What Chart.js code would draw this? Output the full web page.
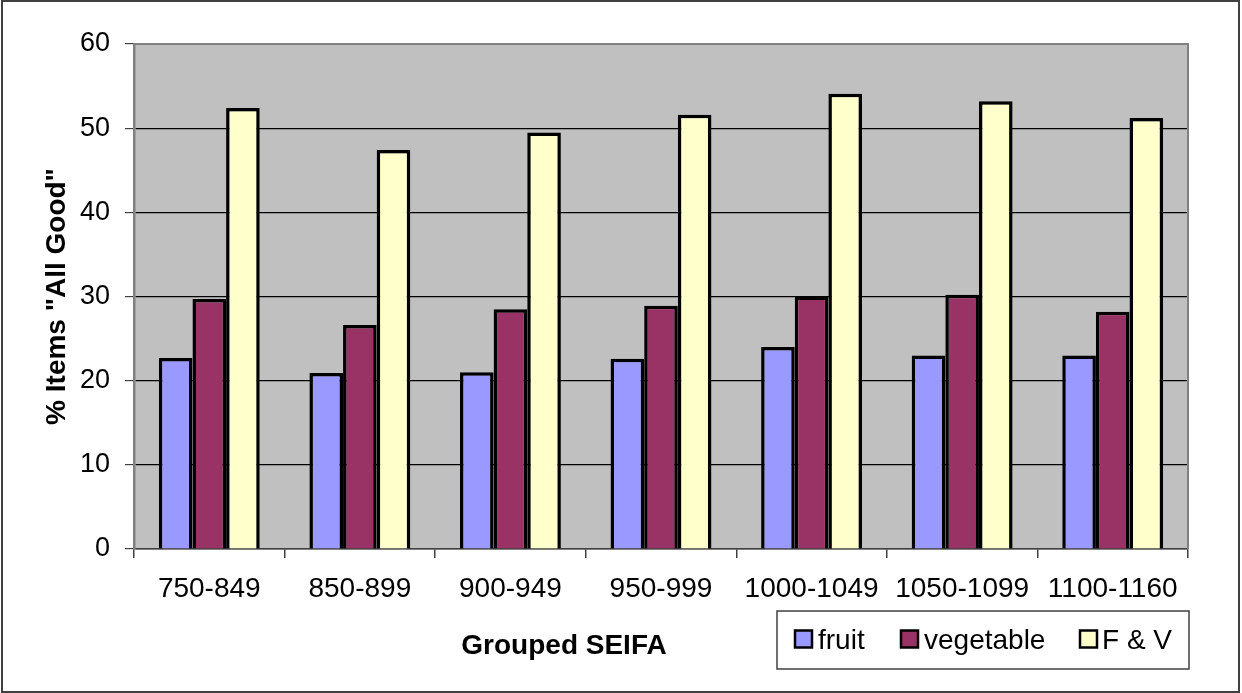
<!DOCTYPE html>
<html>
<head>
<meta charset="utf-8">
<title>Grouped SEIFA – % Items "All Good"</title>
<script src="https://cdn.jsdelivr.net/npm/chart.js@4/dist/chart.umd.min.js"></script>
<style>
  html, body { margin: 0; padding: 0; background: #ffffff; }
  #wrap { width: 1242px; height: 693px; position: relative; }
  canvas { display: block; }
</style>
</head>
<body>
<div id="wrap"><canvas id="chart" width="1242" height="693"></canvas></div>
<script>
// Grouped SEIFA bands
const categories = ['750-849', '850-899', '900-949', '950-999', '1000-1049', '1050-1099', '1100-1160'];

// % of items rated "All Good" per band
const fruit     = [22.7, 20.9, 21.0, 22.6, 24.0, 23.0, 23.0];
const vegetable = [29.7, 26.6, 28.5, 28.9, 30.0, 30.2, 28.2];
const fAndV     = [52.4, 47.4, 49.5, 51.6, 54.1, 53.2, 51.2];

// Value axis ticks
const yTicks = [0, 10, 20, 30, 40, 50, 60];

const seriesNames = ['fruit', 'vegetable', 'F & V'];
const seriesColors = ['#9999FF', '#993366', '#FFFFCC'];

const FONT = '"Liberation Sans", Arial, Helvetica, sans-serif';

// Plot background, plot frame, outer frame, axis titles and legend box
const decorations = {
  id: 'decorations',
  beforeDraw(chart) {
    const { ctx, chartArea: a } = chart;
    ctx.save();
    ctx.fillStyle = '#ffffff';
    ctx.fillRect(0, 0, chart.width, chart.height);
    ctx.fillStyle = '#C0C0C0';
    ctx.fillRect(a.left, a.top, a.right - a.left, a.bottom - a.top);
    ctx.restore();
  },
  afterDraw(chart) {
    const { ctx, chartArea: a } = chart;
    ctx.save();

    // plot frame (top and right edges)
    ctx.strokeStyle = '#808080';
    ctx.lineWidth = 2;
    ctx.beginPath();
    ctx.moveTo(a.left, a.top);
    ctx.lineTo(a.right, a.top);
    ctx.lineTo(a.right, a.bottom);
    ctx.stroke();

    // outer frame
    ctx.strokeStyle = '#404040';
    ctx.lineWidth = 2;
    ctx.strokeRect(2, 1, 1237, 691);

    // axis titles
    ctx.fillStyle = '#000000';
    ctx.font = 'bold 28px ' + FONT;
    ctx.textAlign = 'center';
    ctx.textBaseline = 'alphabetic';
    ctx.fillText('Grouped SEIFA', 564, 654);

    ctx.save();
    ctx.translate(65, (a.top + a.bottom) / 2);
    ctx.rotate(-Math.PI / 2);
    ctx.fillText('% Items "All Good"', 0, 0);
    ctx.restore();

    // legend
    const box = { x: 777, y: 611, w: 412, h: 58 };
    ctx.fillStyle = '#ffffff';
    ctx.fillRect(box.x, box.y, box.w, box.h);
    ctx.strokeStyle = '#404040';
    ctx.lineWidth = 1.5;
    ctx.strokeRect(box.x, box.y, box.w, box.h);

    const items = [
      { sx: 795, tx: 818 },
      { sx: 901, tx: 924 },
      { sx: 1080, tx: 1102 }
    ];
    const cy = 639;
    ctx.font = '28px ' + FONT;
    ctx.textAlign = 'left';
    ctx.textBaseline = 'alphabetic';
    items.forEach((it, i) => {
      ctx.fillStyle = seriesColors[i];
      ctx.fillRect(it.sx, cy - 8.5, 17, 17);
      ctx.strokeStyle = '#000000';
      ctx.lineWidth = 2.5;
      ctx.strokeRect(it.sx, cy - 8.5, 17, 17);
      ctx.fillStyle = '#000000';
      ctx.fillText(seriesNames[i], it.tx, cy + 10);
    });

    ctx.restore();
  }
};

const datasets = [fruit, vegetable, fAndV].map((values, i) => ({
  label: seriesNames[i],
  data: values,
  backgroundColor: seriesColors[i],
  borderColor: '#000000',
  borderWidth: 3.5,
  borderSkipped: 'start',
  barPercentage: 1.0,
  categoryPercentage: 0.67
}));

new Chart(document.getElementById('chart'), {
  type: 'bar',
  data: { labels: categories, datasets },
  options: {
    responsive: false,
    maintainAspectRatio: false,
    animation: false,
    layout: { padding: { top: 44, right: 54, left: 0, bottom: 0 } },
    plugins: {
      legend: { display: false },
      tooltip: { enabled: false },
      title: { display: false }
    },
    scales: {
      x: {
        offset: true,
        afterFit(scale) { scale.height = 144; },
        grid: {
          offset: true,
          drawOnChartArea: false,
          drawTicks: true,
          tickLength: 9,
          tickColor: '#404040',
          lineWidth: 1.5
        },
        border: { display: true, color: '#404040', width: 1.5 },
        ticks: {
          color: '#000000',
          font: { family: FONT, size: 28 },
          padding: 14,
          maxRotation: 0,
          autoSkip: false
        }
      },
      y: {
        min: 0,
        max: 60,
        afterFit(scale) { scale.width = 134; },
        afterBuildTicks(scale) { scale.ticks = yTicks.map(v => ({ value: v })); },
        grid: {
          color: '#000000',
          lineWidth: 1.2,
          drawTicks: true,
          tickLength: 9,
          tickColor: '#404040'
        },
        border: { display: true, color: '#808080', width: 2.5 },
        ticks: {
          color: '#000000',
          font: { family: FONT, size: 27 },
          padding: 15
        }
      }
    }
  },
  plugins: [decorations]
});
</script>
</body>
</html>
